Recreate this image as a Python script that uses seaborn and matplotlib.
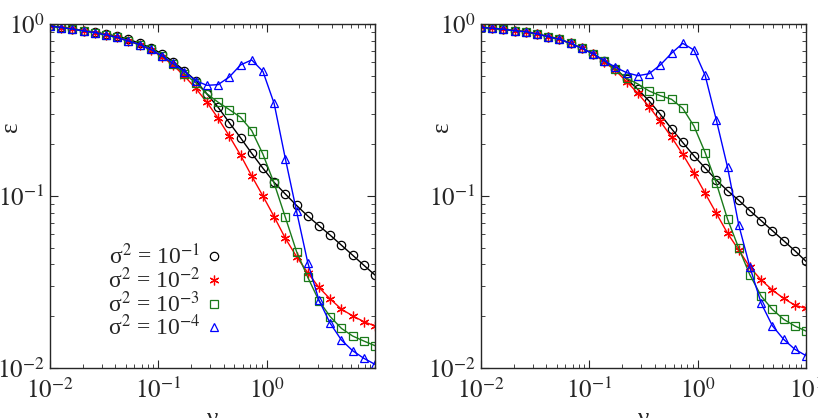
import numpy as np
import pandas as pd
import matplotlib
matplotlib.use('Agg')
import matplotlib.pyplot as plt
from matplotlib.lines import Line2D
import seaborn as sns

# valores de nu (30 puntos log-espaciados entre 1e-2 y 1e1)
nu = [0.01, 0.01269, 0.01610, 0.02043, 0.02593, 0.03290, 0.04175, 0.05298,
      0.06723, 0.08532, 0.1083, 0.1374, 0.1743, 0.2212, 0.2807, 0.3562,
      0.4520, 0.5736, 0.7279, 0.9237, 1.172, 1.487, 1.888, 2.395, 3.039,
      3.857, 4.894, 6.210, 7.880, 10.0]

# panel izquierdo
left_s1 = [0.974, 0.956, 0.938, 0.916, 0.898, 0.873, 0.850, 0.815, 0.772, 0.728,
           0.669, 0.604, 0.535, 0.469, 0.392, 0.328, 0.267, 0.218, 0.177, 0.145,
           0.120, 0.1027, 0.0881, 0.0765, 0.0672, 0.0592, 0.0518, 0.0453, 0.0396, 0.0347]
left_s2 = [0.974, 0.954, 0.935, 0.911, 0.892, 0.863, 0.835, 0.796, 0.758, 0.706,
           0.645, 0.575, 0.498, 0.423, 0.351, 0.283, 0.223, 0.173, 0.1306, 0.100,
           0.0758, 0.0568, 0.0444, 0.0358, 0.0294, 0.0252, 0.0220, 0.0201, 0.0186, 0.01755]
left_s3 = [0.974, 0.954, 0.935, 0.911, 0.892, 0.863, 0.835, 0.796, 0.760, 0.711,
           0.652, 0.585, 0.512, 0.456, 0.393, 0.351, 0.318, 0.287, 0.240, 0.175,
           0.1186, 0.0752, 0.0475, 0.0337, 0.0246, 0.0199, 0.0170, 0.01535, 0.01435, 0.01348]
left_s4 = [0.974, 0.954, 0.935, 0.911, 0.892, 0.863, 0.835, 0.796, 0.760, 0.711,
           0.652, 0.590, 0.528, 0.468, 0.440, 0.444, 0.492, 0.578, 0.618, 0.530,
           0.345, 0.165, 0.0815, 0.0410, 0.0248, 0.0182, 0.01455, 0.01261, 0.01139, 0.0105]

# panel derecho
right_s1 = [0.957, 0.944, 0.932, 0.914, 0.902, 0.875, 0.844, 0.815, 0.772, 0.722,
            0.672, 0.609, 0.548, 0.479, 0.417, 0.357, 0.2985, 0.246, 0.2047, 0.1713,
            0.1455, 0.1239, 0.1073, 0.0944, 0.0821, 0.0719, 0.0629, 0.0550, 0.0481, 0.0417]
right_s2 = [0.957, 0.944, 0.932, 0.914, 0.902, 0.875, 0.844, 0.815, 0.772, 0.722,
            0.672, 0.601, 0.537, 0.462, 0.3955, 0.3306, 0.272, 0.220, 0.1747, 0.136,
            0.1037, 0.0793, 0.0607, 0.0485, 0.0385, 0.0325, 0.0284, 0.0254, 0.0232, 0.0222]
right_s3 = [0.957, 0.944, 0.932, 0.914, 0.902, 0.875, 0.844, 0.815, 0.772, 0.722,
            0.672, 0.609, 0.545, 0.483, 0.448, 0.408, 0.383, 0.365, 0.3235, 0.255,
            0.179, 0.1186, 0.0733, 0.0497, 0.0347, 0.0262, 0.0219, 0.0192, 0.01755, 0.0164]
right_s4 = [0.957, 0.944, 0.932, 0.914, 0.902, 0.875, 0.844, 0.815, 0.772, 0.722,
            0.672, 0.612, 0.560, 0.521, 0.5005, 0.514, 0.578, 0.676, 0.772, 0.706,
            0.503, 0.2765, 0.1468, 0.0678, 0.0385, 0.0238, 0.0176, 0.01469, 0.01285, 0.0118]

labels = ['σ$^2$ = 10$^{-1}$', 'σ$^2$ = 10$^{-2}$',
          'σ$^2$ = 10$^{-3}$', 'σ$^2$ = 10$^{-4}$']
colors = ['black', '#ff0000', '#1a7a1a', '#0000ff']
markers = ['o', (6, 2, 0), 's', '^']
msizes = [6, 7, 5.5, 6]

x_ticks = [1e-2, 1e-1, 1e0, 1e1]
x_ticklabels = ['$10^{-2}$', '$10^{-1}$', '$10^{0}$', '$10^{1}$']
y_ticks = [1e-2, 1e-1, 1e0]
y_ticklabels = ['$10^{-2}$', '$10^{-1}$', '$10^{0}$']

sns.set_style('ticks')
plt.rcParams['font.family'] = ['Liberation Serif', 'DejaVu Serif']
plt.rcParams['mathtext.fontset'] = 'stix'

fig = plt.figure(figsize=(8.18, 4.18), dpi=100)
ax_l = fig.add_axes([50 / 818, 50 / 418, 325 / 818, 344 / 418])
ax_r = fig.add_axes([481 / 818, 50 / 418, 325 / 818, 344 / 418])

panels = [(ax_l, [left_s1, left_s2, left_s3, left_s4]),
          (ax_r, [right_s1, right_s2, right_s3, right_s4])]

for ax, series in panels:
    for eps, c, m, ms in zip(series, colors, markers, msizes):
        df = pd.DataFrame({'nu': nu, 'eps': eps})
        sns.lineplot(data=df, x='nu', y='eps', ax=ax, color=c, marker=m,
                     markersize=ms, markerfacecolor='none', markeredgecolor=c,
                     markeredgewidth=0.9, linewidth=1.0)
    ax.set_xscale('log')
    ax.set_yscale('log')
    ax.set_xlim(1e-2, 1e1)
    ax.set_ylim(1e-2, 1e0)
    ax.set_xticks(x_ticks)
    ax.set_yticks(y_ticks)
    ax.set_yticklabels(y_ticklabels)
    ax.tick_params(which='both', direction='in', top=True, right=True, labelsize=18)
    ax.tick_params(which='major', length=6, width=0.8)
    ax.tick_params(which='minor', length=3, width=0.6)
    ax.tick_params(axis='x', which='major', pad=7)
    ax.tick_params(axis='y', which='major', pad=4)
    for sp in ax.spines.values():
        sp.set_linewidth(1.0)
    ax.set_xlabel('ν', fontsize=18)
    ax.set_ylabel('ε', fontsize=18)
    ax.yaxis.set_label_coords(-0.085, 0.70)
    ax.xaxis.set_label_coords(0.5, -0.115)

ax_l.set_xticklabels(x_ticklabels[:3] + [''])
ax_r.set_xticklabels(x_ticklabels)

handles = [Line2D([], [], linestyle='none', marker=m, markersize=ms,
                  markerfacecolor='none', markeredgecolor=c, markeredgewidth=0.9)
           for c, m, ms in zip(colors, markers, msizes)]
ax_l.legend(handles, labels, loc='center', bbox_to_anchor=(0.353, 0.22),
            frameon=False, markerfirst=False, fontsize=17, handlelength=0.7,
            handletextpad=0.2, labelspacing=-0.08, borderaxespad=0)

fig.savefig('out.png', dpi=100)
